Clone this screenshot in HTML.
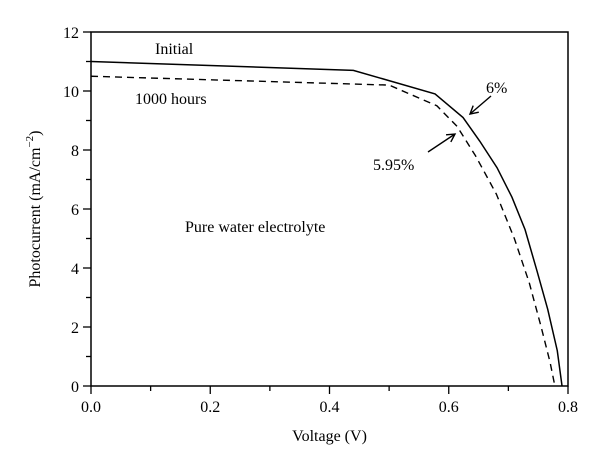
<!DOCTYPE html>
<html><head><meta charset="utf-8"><style>body{margin:0;background:#fff}svg{display:block;font-family:"Liberation Serif",serif}svg text{font-family:"Liberation Serif","DejaVu Serif",serif}</style></head>
<body>
<svg id="c" width="600" height="466"></svg>
<script>
const xTicks=[0,0.2,0.4,0.6,0.8];
const xTickLabels=["0.0","0.2","0.4","0.6","0.8"];
const yTicks=[0,2,4,6,8,10,12];
const initialV=[0,0.44,0.577,0.624,0.652,0.681,0.706,0.728,0.748,0.766,0.782,0.79];
const initialI=[11.0,10.7,9.9,9.1,8.3,7.4,6.4,5.3,3.9,2.6,1.2,0];
const agedV=[0,0.5,0.58,0.614,0.645,0.68,0.71,0.735,0.755,0.77,0.778];
const agedI=[10.5,10.2,9.5,8.8,7.8,6.5,5.0,3.5,2.0,0.8,0];
const L=91,R=568,T=32,B=386;
const FF='"Liberation Serif", serif';
const sx=v=>L+(v-0)/(0.8)*(R-L);
const sy=i=>B-i/12*(B-T);
const svg=document.getElementById('c');
const NS='http://www.w3.org/2000/svg';
function mk(t,a,txt){const e=document.createElementNS(NS,t);for(const k in a)e.setAttribute(k,a[k]);if(t==='text')e.setAttribute('font-family',FF);if(txt!==undefined)e.textContent=txt;svg.appendChild(e);return e;}
let e;
e=mk('rect',{x:L,y:T,width:R-L,height:B-T,fill:'none',stroke:'#000','stroke-width':1.5});


for(let k=0;k<=8;k++){const v=k*0.1,x=sx(v);const len=k%2?5:8;
e=mk('line',{x1:x,y1:B,x2:x,y2:B+len,stroke:'#000','stroke-width':1.3});

}
xTicks.forEach((v,i)=>{e=mk('text',{x:sx(v),y:B+26,'text-anchor':'middle','font-size':16},xTickLabels[i]);

});
for(let k=0;k<=12;k++){const y=sy(k);const len=k%2?5:8;
e=mk('line',{x1:L-len,y1:y,x2:L,y2:y,stroke:'#000','stroke-width':1.3});

}
yTicks.forEach(v=>{e=mk('text',{x:L-12,y:sy(v)+6,'text-anchor':'end','font-size':16},String(v));

});
e=mk('text',{x:sx(0.4),y:441,'text-anchor':'middle','font-size':16},'Voltage (V)');


e=mk('text',{x:0,y:0,'text-anchor':'middle','font-size':16,transform:'translate(40,'+((T+B)/2)+') rotate(-90)'});


e.innerHTML='Photocurrent (mA/cm<tspan dy="-7" font-size="11">−2</tspan><tspan dy="7">)</tspan>';
const pts=(V,I)=>V.map((v,i)=>sx(v)+','+sy(I[i])).join(' ');
e=mk('polyline',{points:pts(initialV,initialI),fill:'none',stroke:'#000','stroke-width':1.5});


e=mk('polyline',{points:pts(agedV,agedI),fill:'none',stroke:'#000','stroke-width':1.4,'stroke-dasharray':'7,5'});


const labels=[['Initial',155,54,'initial-label'],['1000 hours',135,104,'1000-hours-label'],['Pure water electrolyte',185,232,'electrolyte-label'],['6%',486,93,'efficiency-initial-label'],['5.95%',373,170,'efficiency-aged-label']];
labels.forEach(l=>{e=mk('text',{x:l[1],y:l[2],'font-size':16},l[0]);

});
function arrow(x1,y1,x2,y2,name){const g=document.createElementNS(NS,'g');svg.appendChild(g);


const a=Math.atan2(y2-y1,x2-x1),h=9;
g.innerHTML=`<line x1="${x1}" y1="${y1}" x2="${x2}" y2="${y2}" stroke="#000" stroke-width="1.4"/>`+
`<polyline points="${x2-h*Math.cos(a-0.5)},${y2-h*Math.sin(a-0.5)} ${x2},${y2} ${x2-h*Math.cos(a+0.5)},${y2-h*Math.sin(a+0.5)}" fill="none" stroke="#000" stroke-width="1.4"/>`;}
arrow(491,96,470,114,'arrow-6pct');
arrow(428,152,455,134,'arrow-5-95pct');
</script>
</body></html>
